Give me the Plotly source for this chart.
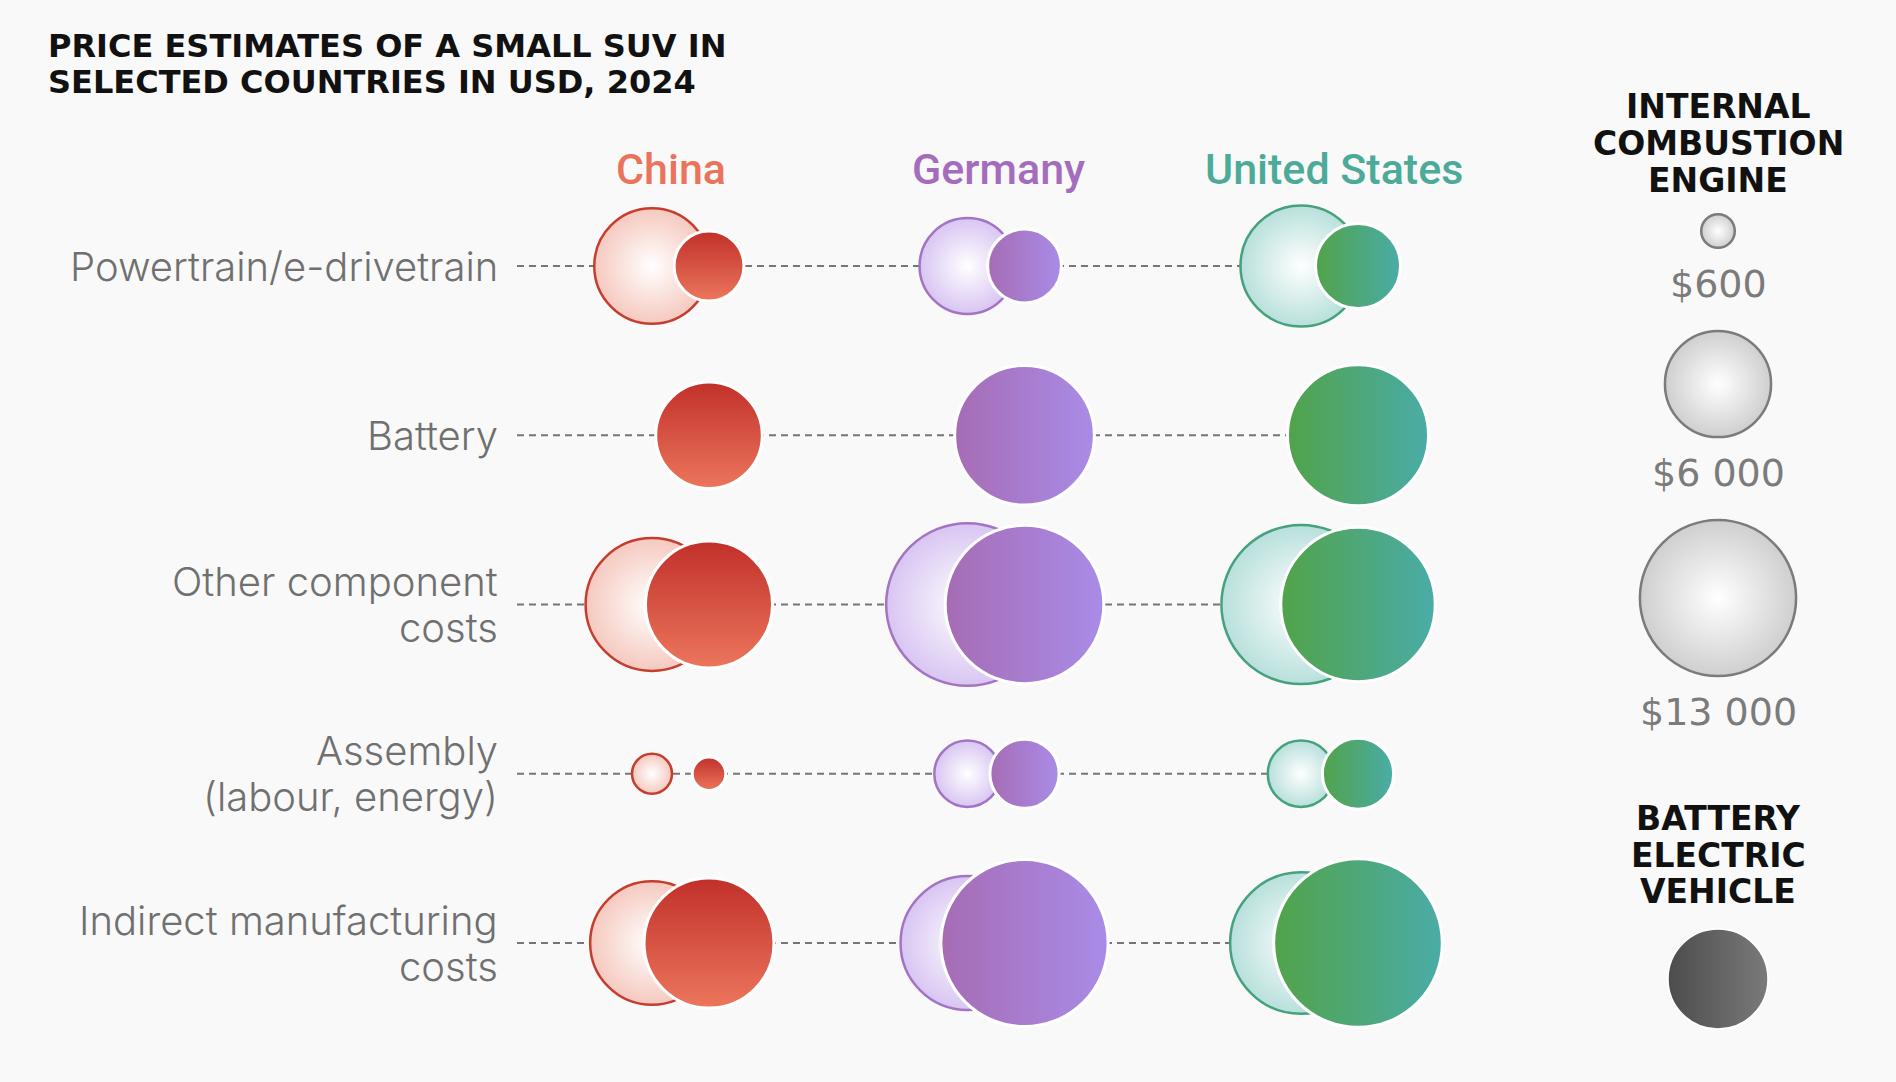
import plotly.graph_objects as go

# data (USD, 2024)
countries = ["China", "Germany", "United States"]
components = [
    "Powertrain/e-drivetrain",
    "Battery",
    "Other component<br>costs",
    "Assembly<br>(labour, energy)",
    "Indirect manufacturing<br>costs",
]
ice_china = [7100, None, 9400, 850, 8150]
bev_china = [2600, 6050, 8600, 600, 9000]
ice_germany = [4900, None, 14100, 2350, 9550]
bev_germany = [2900, 10400, 13400, 2550, 14900]
ice_us = [7800, None, 13500, 2350, 10700]
bev_us = [3850, 10600, 12700, 2700, 15150]
legend_values = [600, 6000, 13000]
legend_labels = ["$600", "$6 000", "$13 000"]

# layout (pixel units on a full-canvas axis)
W, H = 1896, 1082
ROW_Y0, ROW_STEP = 266, 169.25
COL_X = [652, 967.5, 1301]
BEV_SHIFT = 57
HEADER_X = [671, 998, 1334]
LABEL_X = 500
LINE_X0 = 517
LABEL_LINE = 46
LEG_X = 1718
LEG_Y = [231, 384, 598]
K = 0.685
SIZEREF = 1 / (2 * K * K)

header_col = ["#e9735b", "#a46cbc", "#4caa98"]
ice_edge = ["#c63d2e", "#a474c4", "#45a27c"]
ice_tint = ["#f5c9bf", "#d8c5f2", "#b8e0dc"]
bev_col = ["#c1302a", "#a66cb4", "#51a349"]
bev_grad = ["#ec765c", "#a98ce8", "#4aaca8"]
bev_gtype = ["vertical", "horizontal", "horizontal"]

ice_vals = [ice_china, ice_germany, ice_us]
bev_vals = [bev_china, bev_germany, bev_us]
row_y = [ROW_Y0 + i * ROW_STEP for i in range(len(components))]


def present(vals):
    # rows with a value (battery has no ICE circle)
    return [i for i, v in enumerate(vals) if v is not None]


fig = go.Figure()

# dashed guide lines
for y in row_y:
    fig.add_trace(go.Scatter(
        x=[LINE_X0, COL_X[-1] + BEV_SHIFT], y=[y, y], mode="lines",
        line=dict(color="#767676", width=2, dash="7px,5px"),
        hoverinfo="skip", showlegend=False))

for c in range(len(countries)):
    idx = present(ice_vals[c])
    fig.add_trace(go.Scatter(
        x=[COL_X[c]] * len(idx), y=[row_y[i] for i in idx], mode="markers",
        marker=dict(size=[ice_vals[c][i] for i in idx], sizemode="area", sizeref=SIZEREF,
                    color=ice_tint[c], opacity=1,
                    gradient=dict(type="radial", color="#ffffff"),
                    line=dict(color=ice_edge[c], width=2.5)),
        hoverinfo="skip", showlegend=False))
    idx = present(bev_vals[c])
    fig.add_trace(go.Scatter(
        x=[COL_X[c] + BEV_SHIFT] * len(idx), y=[row_y[i] for i in idx], mode="markers",
        marker=dict(size=[bev_vals[c][i] for i in idx], sizemode="area", sizeref=SIZEREF,
                    color=bev_col[c], opacity=1,
                    gradient=dict(type=bev_gtype[c], color=bev_grad[c]),
                    line=dict(color="#ffffff", width=3)),
        hoverinfo="skip", showlegend=False))

# size legend
fig.add_trace(go.Scatter(
    x=[LEG_X] * len(legend_values), y=LEG_Y, mode="markers",
    marker=dict(size=legend_values, sizemode="area", sizeref=SIZEREF, opacity=1,
                color="#cfcfcf", gradient=dict(type="radial", color="#ffffff"),
                line=dict(color="#7b7b7b", width=2.5)),
    hoverinfo="skip", showlegend=False))
fig.add_trace(go.Scatter(
    x=[LEG_X], y=[979], mode="markers",
    marker=dict(size=100, color="#4c4c4c", opacity=1,
                gradient=dict(type="horizontal", color="#7a7a7a"),
                line=dict(color="#ffffff", width=1.5)),
    hoverinfo="skip", showlegend=False))

ann = []
title_font = dict(family="DejaVu Sans", size=32, color="#111111", weight="bold")
for t, y in [("PRICE ESTIMATES OF A SMALL SUV IN", 46), ("SELECTED COUNTRIES IN USD, 2024", 82)]:
    ann.append(dict(x=46, y=y, text=t, xanchor="left", yanchor="middle",
                    font=title_font))

for c, name in enumerate(countries):
    ann.append(dict(x=HEADER_X[c], y=169, text=name, xanchor="center", yanchor="middle",
                    font=dict(family="Roboto", size=43, color=header_col[c], weight=500)))

label_font = dict(family="Inter", size=40, color="#707070", weight=300)
for lab, y in zip(components, row_y):
    lines = lab.split("<br>")
    y0 = y - (len(lines) - 1) * LABEL_LINE / 2
    for j, line in enumerate(lines):
        ann.append(dict(x=LABEL_X, y=y0 + j * LABEL_LINE, text=line, xanchor="right",
                        yanchor="middle", font=label_font))

leg_font = dict(family="DejaVu Sans", size=33, color="#111111", weight="bold")
for t, y in [("INTERNAL", 106), ("COMBUSTION", 143), ("ENGINE", 180),
             ("BATTERY", 818), ("ELECTRIC", 855), ("VEHICLE", 891)]:
    ann.append(dict(x=LEG_X, y=y, text=t, xanchor="center", yanchor="middle", font=leg_font))

for lab, y, v in zip(legend_labels, LEG_Y, legend_values):
    r = K * v ** 0.5
    ann.append(dict(x=LEG_X, y=y + r + 36, text=lab, xanchor="center", yanchor="middle",
                    font=dict(family="DejaVu Sans", size=38, color="#7b7b7b")))

for a in ann:
    a.update(xref="x", yref="y", showarrow=False)

fig.update_layout(
    width=W, height=H, margin=dict(l=0, r=0, t=0, b=0),
    paper_bgcolor="#f9f9f9", plot_bgcolor="#f9f9f9",
    xaxis=dict(range=[0, W], visible=False, fixedrange=True),
    yaxis=dict(range=[H, 0], visible=False, fixedrange=True),
    annotations=ann, showlegend=False,
)

fig.write_html("out.html", config={"displayModeBar": False},
               post_script="document.body.style.margin='0';")
